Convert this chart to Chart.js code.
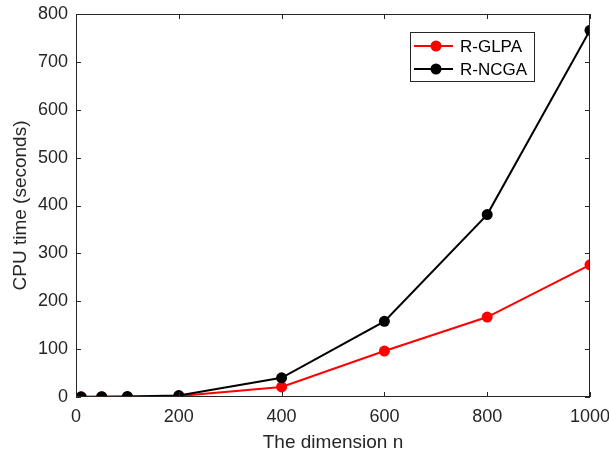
<!DOCTYPE html>
<html>
<head>
<meta charset="utf-8">
<script src="https://cdn.jsdelivr.net/npm/chart.js@4/dist/chart.umd.min.js"></script>
<style>
  html, body { margin: 0; padding: 0; background: #fff; }
  #wrap { width: 609px; height: 454px; }
</style>
</head>
<body>
<div id="wrap"><canvas id="cpuChart"></canvas></div>
<script>
const dims = [10, 50, 100, 200, 400, 600, 800, 1000];
const glpaTimes = [0.2, 0.3, 0.5, 2, 21, 96, 167, 276];
const ncgaTimes = [0.3, 0.5, 0.8, 3, 40, 158, 381, 766];
const seriesNames = ['R-GLPA', 'R-NCGA'];
const seriesColors = ['#ff0000', '#000000'];

const axisColor = '#262626';
const fontFam = '"Liberation Sans", Arial, Helvetica, sans-serif';

const toPoints = (xs, ys) => xs.map((x, i) => ({ x: x, y: ys[i] }));

// box around plot + inward ticks, matlab style
const boxTicks = {
    id: 'boxTicks',
    afterDraw(chart) {
        const ctx = chart.ctx;
        const a = chart.chartArea;
        const xs = chart.scales.x, ys = chart.scales.y;
        ctx.save();
        ctx.strokeStyle = axisColor;
        ctx.lineWidth = 1;
        ctx.strokeRect(a.left + 0.5, a.top + 0.5, a.right - a.left - 1, a.bottom - a.top - 1);
        ctx.beginPath();
        xs.ticks.forEach(t => {
            const px = Math.round(xs.getPixelForValue(t.value)) + 0.5;
            ctx.moveTo(px, a.bottom); ctx.lineTo(px, a.bottom - 5);
            ctx.moveTo(px, a.top); ctx.lineTo(px, a.top + 5);
        });
        ys.ticks.forEach(t => {
            const py = Math.round(ys.getPixelForValue(t.value)) + 0.5;
            ctx.moveTo(a.left, py); ctx.lineTo(a.left + 5, py);
            ctx.moveTo(a.right, py); ctx.lineTo(a.right - 5, py);
        });
        ctx.stroke();

        // legend box
        const bx = 410, by = 32, bw = 124, bh = 49;
        ctx.fillStyle = '#fff';
        ctx.fillRect(bx, by, bw, bh);
        ctx.strokeStyle = '#262626';
        ctx.strokeRect(bx + 0.5, by + 0.5, bw, bh);
        ctx.font = '17px ' + fontFam;
        ctx.textBaseline = 'middle';
        seriesNames.forEach((name, i) => {
            const yy = by + 14 + i * 23;
            ctx.strokeStyle = seriesColors[i];
            ctx.lineWidth = 2;
            ctx.beginPath();
            ctx.moveTo(bx + 4, yy); ctx.lineTo(bx + 43, yy);
            ctx.stroke();
            ctx.fillStyle = seriesColors[i];
            ctx.beginPath();
            ctx.arc(bx + 26, yy, 5.5, 0, Math.PI * 2);
            ctx.fill();
            ctx.fillStyle = '#000';
            ctx.fillText(name, bx + 50, yy + 1);
        });
        ctx.restore();
    }
};

const data = {
    datasets: [
        {
            label: seriesNames[0],
            data: toPoints(dims, glpaTimes),
            borderColor: seriesColors[0],
            backgroundColor: seriesColors[0],
            borderWidth: 2,
            pointRadius: 5.5,
            pointBorderWidth: 0,
            order: 1
        },
        {
            label: seriesNames[1],
            data: toPoints(dims, ncgaTimes),
            borderColor: seriesColors[1],
            backgroundColor: seriesColors[1],
            borderWidth: 2,
            pointRadius: 5.5,
            pointBorderWidth: 0,
            order: 0
        }
    ]
};

const config = {
    type: 'line',
    data: data,
    options: {
        responsive: true,
        maintainAspectRatio: false,
        animation: false,
        layout: { padding: { top: 14, right: 19, left: 0, bottom: 0 } },
        scales: {
            x: {
                type: 'linear',
                min: 0,
                max: 1000,
                ticks: {
                    stepSize: 200, color: axisColor, padding: 9,
                    font: { size: 18, family: fontFam },
                    callback: v => String(v)
                },
                grid: { display: false, drawTicks: false },
                border: { display: false },
                title: { display: true, text: 'The dimension n', color: axisColor, padding: { top: 0, bottom: 0 }, font: { size: 19, family: fontFam } },
                afterFit(scale) { scale.height = 57; scale.paddingRight = 0; }
            },
            y: {
                min: 0,
                max: 800,
                ticks: { stepSize: 100, color: axisColor, padding: 8, font: { size: 18, family: fontFam } },
                grid: { display: false, drawTicks: false },
                border: { display: false },
                title: { display: true, text: 'CPU time (seconds)', color: axisColor, padding: { top: 9, bottom: 0 }, font: { size: 19, family: fontFam } },
                afterFit(scale) { scale.width = 76; scale.paddingTop = 0; }
            }
        },
        plugins: {
            legend: { display: false },
            tooltip: { enabled: false }
        }
    },
    plugins: [boxTicks]
};

const cpuChart = new Chart(document.getElementById('cpuChart'), config);
</script>
</body>
</html>
